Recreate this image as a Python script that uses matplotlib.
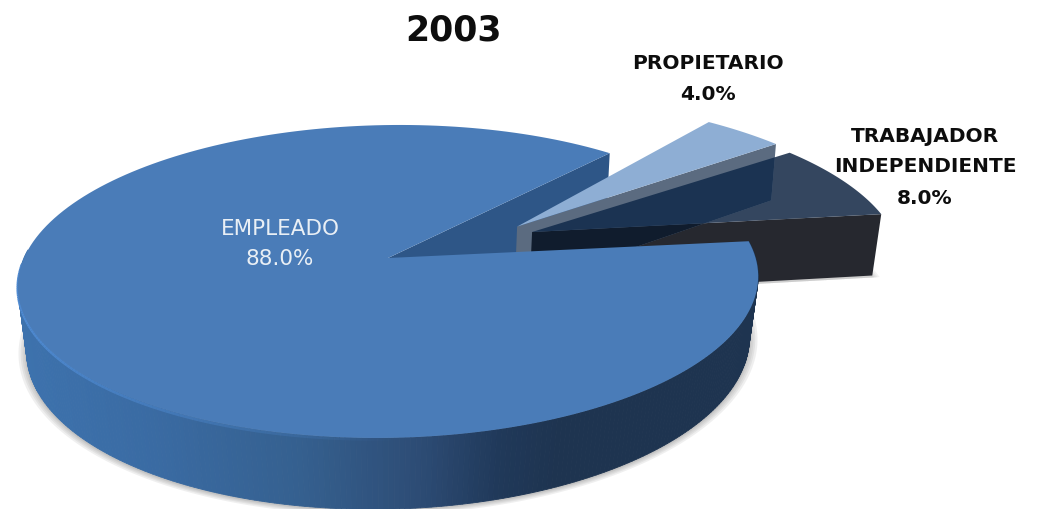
import numpy as np
import matplotlib
matplotlib.use("Agg")
import matplotlib.pyplot as plt
from matplotlib.patches import Polygon
from matplotlib.collections import LineCollection
from matplotlib.colors import to_rgb

# ---- data ----
title = "2003"
categories = ["EMPLEADO", "TRABAJADOR\nINDEPENDIENTE", "PROPIETARIO"]
values = [88.0, 8.0, 4.0]

# ---- style / layout ----
START = 47.7
ANGLE_SHIFT = [0.0, 2.6, 3.8]
EXPLODE = [(0.0, 0.0), (0.404, 0.1745), (0.364, 0.212)]
RADIUS = [1.0, 1.012, 1.04]
TOP = dict(x0=388.0, k=366.0, c=0.150, b=258.0, a=-114.2, tilt=0.0)
BOT = dict(x0=388.0, k=358.0, c=0.137, b=322.0, a=-117.4, tilt=0.0)
TOP_MAIN = {**TOP, "tilt": -5.0}
BOT_MAIN = {**BOT, "tilt": -7.0}
C_MAIN = "#4a7cb8"
C_MAIN_FACE = "#2e5687"
C_TRAB_TOP = "#34465f"
C_TRAB_SIDE = "#26282f"
C_TRAB_TOP_OVER = "#1b3352"
C_TRAB_SIDE_OVER = "#101c2d"
C_PROP_TOP = "#8eaed4"
C_PROP_SIDE = "#5b6b80"

plt.rcParams["font.family"] = ["DejaVu Sans"]
fig = plt.figure(figsize=(10.37, 5.09), dpi=100, facecolor="white")
ax = fig.add_axes([0, 0, 1, 1])
ax.set_xlim(0, 1037)
ax.set_ylim(509, 0)
ax.axis("off")


def project(x, y, p):
    x, y = np.asarray(x, float), np.asarray(y, float)
    w = 1 + p["c"] * y
    return np.column_stack([p["x0"] + p["k"] * x / w,
                            (p["b"] + p["a"] * y + p["tilt"] * x) / w])


# wedge angle ranges from the values
spans = np.array(values) / sum(values) * 360
theta1 = START + np.concatenate([[0], np.cumsum(spans)[:-1]]) + np.array(ANGLE_SHIFT)
theta2 = theta1 + spans


def planes(i):
    return (TOP_MAIN, BOT_MAIN) if i == 0 else (TOP, BOT)


def rim(i, t1=None, t2=None, n=200):
    t = np.radians(np.linspace(theta1[i] if t1 is None else t1,
                               theta2[i] if t2 is None else t2, n))
    ox, oy = EXPLODE[i]
    return ox + RADIUS[i] * np.cos(t), oy + RADIUS[i] * np.sin(t)


def top_poly(i):
    x, y = rim(i)
    ox, oy = EXPLODE[i]
    return project(np.r_[ox, x], np.r_[oy, y], planes(i)[0])


def radial_face(i, angle):
    ox, oy = EXPLODE[i]
    t = np.radians(angle)
    ex, ey = ox + RADIUS[i] * np.cos(t), oy + RADIUS[i] * np.sin(t)
    ptop, pbot = planes(i)
    a = project([ox, ex], [oy, ey], ptop)
    b = project([ex, ox], [ey, oy], pbot)
    return np.vstack([a, b])


def add(points, color, z, **kw):
    patch = Polygon(points, closed=True, facecolor=color, edgecolor=kw.pop("ec", "none"),
                    linewidth=kw.pop("lw", 0), zorder=z, **kw)
    ax.add_patch(patch)
    return patch


# soft shadow below the discs (front half only)
for grow, dy in [(1.022, 1), (1.016, 1), (1.011, 1), (1.006, 1), (1.003, 1)]:
    t = np.radians(np.linspace(180, 360, 200))
    pts = project(grow * np.cos(t), grow * np.sin(t), BOT_MAIN)
    pts[:, 1] += dy
    add(pts, "#8a8a8a", 1, alpha=0.13)
    ts = np.radians(np.linspace(theta1[1], theta2[1], 60))
    ox, oy = EXPLODE[1]
    pts2 = project(np.r_[ox, ox + RADIUS[1] * grow * np.cos(ts)],
                   np.r_[oy, oy + RADIUS[1] * grow * np.sin(ts)], BOT)
    pts2[:, 1] += 2
    add(pts2, "#8a8a8a", 1, alpha=0.10)

# cut face of the main slice, seen behind the small slices
add(radial_face(0, theta1[0]), C_MAIN_FACE, 2)

# TRABAJADOR
trab_side = radial_face(1, theta1[1])
add(trab_side, C_TRAB_SIDE, 3)
add(top_poly(1), C_TRAB_TOP, 4)

# PROPIETARIO: the see-through face shows the slice behind it
prop_face = add(radial_face(2, theta1[2]), C_PROP_SIDE, 5)
over_top = add(top_poly(1), C_TRAB_TOP_OVER, 6)
over_top.set_clip_path(prop_face)
over_side = add(trab_side, C_TRAB_SIDE_OVER, 5.5)
over_side.set_clip_path(prop_face)
add(top_poly(2), C_PROP_TOP, 7)

# EMPLEADO: outer wall in strips with a left-to-right shade, then the top
shade_x = [20, 150, 300, 420, 500, 560, 760]
shade_c = ["#3d72ad", "#3a6ba3", "#35608f", "#2d4c75", "#20395a", "#1e3450", "#1e3450"]
shade_rgb = np.array([to_rgb(c) for c in shade_c])
edges = np.linspace(175, theta2[0], 260)
for t1, t2 in zip(edges[:-1], edges[1:]):
    x, y = rim(0, t1, t2, 2)
    a = project(x, y, TOP_MAIN)
    b = project(x[::-1], y[::-1], BOT_MAIN)
    xm = a[:, 0].mean()
    col = [np.interp(xm, shade_x, shade_rgb[:, j]) for j in range(3)]
    add(np.vstack([a, b]), col, 8, ec=col, lw=0.6)
add(top_poly(0), C_MAIN, 9)

# light rim on the lit part of the wall, fading out toward the front
x, y = rim(0, 180, 272, 120)
hl = project(x, y, TOP_MAIN)
hl[:, 1] += 1.5
segs = np.stack([hl[:-1], hl[1:]], axis=1)
alphas = np.clip(np.linspace(1.0, 0.0, len(segs)) * 1.3, 0, 1)
seg_cols = [(0.31, 0.54, 0.82, float(al)) for al in alphas]
ax.add_collection(LineCollection(segs, colors=seg_cols, linewidths=2.0, zorder=8.5))

# ---- text ----
ax.text(454, 30, title, ha="center", va="center", fontsize=25, fontweight="bold",
        color="#0d0d0d", zorder=12)
ax.text(280, 244, f"{categories[0]}\n{values[0]:.1f}%", ha="center", va="center",
        fontsize=15.5, color="#e9eff5", linespacing=1.67, zorder=12)
ax.text(708, 78.5, f"{categories[2]}\n{values[2]:.1f}%", ha="center", va="center",
        fontsize=14.5, fontweight="bold", color="#0d0d0d", linespacing=1.8, zorder=12)
ax.text(925, 167, f"{categories[1]}\n{values[1]:.1f}%", ha="center", va="center",
        fontsize=14.5, fontweight="bold", color="#0d0d0d", linespacing=1.8, zorder=12)

fig.savefig("out.png", dpi=100, facecolor="white")
